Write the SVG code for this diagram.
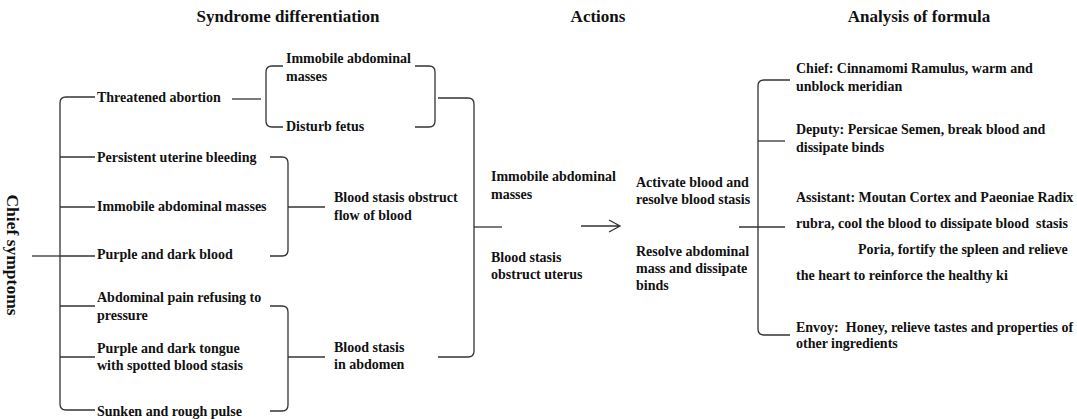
<svg xmlns="http://www.w3.org/2000/svg" width="1077" height="419" viewBox="0 0 1077 419">
<style>
text{font-family:"Liberation Serif","Times New Roman",serif;font-weight:bold;font-size:14px;fill:#111}
.title{font-size:17px}
.side{font-size:17.5px}
.ln{fill:none;stroke:#333;stroke-width:1.3}
</style>
<rect width="1077" height="419" fill="#fff"/>
<g id="titles">
<text class="title" x="288" y="22" text-anchor="middle">Syndrome differentiation</text>
<text class="title" x="598" y="22" text-anchor="middle">Actions</text>
<text class="title" x="919" y="22" text-anchor="middle">Analysis of formula</text>
</g>
<g id="connectors" class="ln">
<path class="ln" d="M32,256 H60"/>
<path class="ln" d="M95,97 H66 Q60,97 60,103 V404 Q60,410 66,410 H95"/>
<path class="ln" d="M60,157 H95 M60,207 H95 M60,256 H95 M60,306 H95 M60,357 H95"/>
<path class="ln" d="M232,99 H261"/>
<path class="ln" d="M283,66 H272 Q266,66 266,72 V121 Q266,127 272,127 H283"/>
<path class="ln" d="M415,66 H429 Q435,66 435,72 V121 Q435,127 429,127 H415"/>
<path class="ln" d="M438,98 H468 Q474,98 474,104 V351 Q474,357 468,357 H438"/>
<path class="ln" d="M474,227 H502"/>
<path class="ln" d="M270,157 H282 Q288,157 288,163 V250 Q288,256 282,256 H270"/>
<path class="ln" d="M288,207 H325"/>
<path class="ln" d="M270,306 H282 Q288,306 288,312 V405 Q288,411 282,411 H270"/>
<path class="ln" d="M288,357 H325"/>
<path class="ln" d="M581,226 H619 M609,220 L620,226 L609,232"/>
<path class="ln" d="M739,227 H785"/>
<path class="ln" d="M790,80 H764 Q758,80 758,86 V329 Q758,335 764,335 H790"/>
<path class="ln" d="M758,141 H785"/>
</g>
<g id="chief-symptoms"><text class="side" transform="translate(7,255) rotate(90)" text-anchor="middle">Chief symptoms</text></g>
<g id="threatened"><text x="97" y="102">Threatened abortion</text></g>
<g id="persistent"><text x="97" y="162">Persistent uterine bleeding</text></g>
<g id="immobile1"><text x="97" y="211">Immobile abdominal masses</text></g>
<g id="purple-blood"><text x="97" y="259">Purple and dark blood</text></g>
<g id="abdominal-pain"><text x="97" y="302">Abdominal pain refusing to</text><text x="97" y="320">pressure</text></g>
<g id="purple-tongue"><text x="97" y="353">Purple and dark tongue</text><text x="97" y="370">with spotted blood stasis</text></g>
<g id="sunken"><text x="97" y="416">Sunken and rough pulse</text></g>
<g id="immobile2"><text x="286" y="63">Immobile abdominal</text><text x="286" y="81">masses</text></g>
<g id="disturb"><text x="286" y="131">Disturb fetus</text></g>
<g id="flow"><text x="334" y="202">Blood stasis obstruct</text><text x="334" y="220">flow of blood</text></g>
<g id="abdomen"><text x="334" y="352">Blood stasis</text><text x="334" y="369">in abdomen</text></g>
<g id="immobile3"><text x="491" y="181">Immobile abdominal</text><text x="491" y="199">masses</text></g>
<g id="uterus"><text x="491" y="262">Blood stasis</text><text x="491" y="279">obstruct uterus</text></g>
<g id="activate"><text x="636" y="187">Activate blood and</text><text x="636" y="204">resolve blood stasis</text></g>
<g id="resolve"><text x="636" y="256">Resolve abdominal</text><text x="636" y="273">mass and dissipate</text><text x="636" y="290">binds</text></g>
<g id="chief"><text x="796" y="73">Chief: Cinnamomi Ramulus, warm and</text><text x="796" y="91">unblock meridian</text></g>
<g id="deputy"><text x="796" y="134">Deputy: Persicae Semen, break blood and</text><text x="796" y="152">dissipate binds</text></g>
<g id="assistant"><text x="796" y="202">Assistant: Moutan Cortex and Paeoniae Radix</text><text x="796" y="228" xml:space="preserve">rubra, cool the blood to dissipate blood  stasis</text><text x="858" y="254">Poria, fortify the spleen and relieve</text><text x="796" y="280">the heart to reinforce the healthy ki</text></g>
<g id="envoy"><text x="796" y="332" xml:space="preserve">Envoy:  Honey, relieve tastes and properties of</text><text x="796" y="348">other ingredients</text></g>
</svg>
